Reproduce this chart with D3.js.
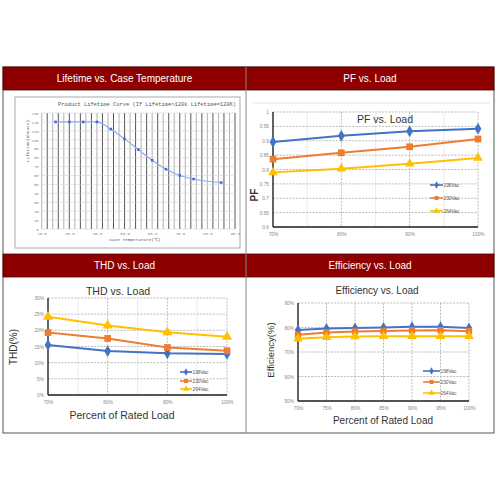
<!DOCTYPE html>
<html><head><meta charset="utf-8">
<script src="https://cdn.jsdelivr.net/npm/d3@7"></script>
<style>body{margin:0;background:#fff}svg{display:block}</style>
</head><body>
<svg id="c" width="500" height="500"></svg>
<script>
// ---------- DATA ----------
const headers = ["Lifetime vs. Case Temperature","PF vs. Load","THD vs. Load","Efficiency vs. Load"];
const seriesNames = ["198Vac","230Vac","264Vac"];

const lifeTemps = [25,30,35,40,45,50,55,60,65,70,75,85];
const lifeHours = [120,120,120,120,112,101,89,77,67,60,56,52];
const lifeXTicks = [20,30,40,50,60,70,80,90];
const lifeYTicks = [0,10,20,30,40,50,60,70,80,90,100,110,120,130];

const pfLoads = ["70%","80%","90%","100%"];
const pf198 = [0.896,0.917,0.933,0.942];
const pf230 = [0.836,0.858,0.879,0.906];
const pf264 = [0.790,0.803,0.820,0.840];
const pfTicks = [0.6,0.65,0.7,0.75,0.8,0.85,0.9,0.95,1];

const thdLoads = ["70%","80%","80%","100%"];
const thd198 = [15.5,13.6,12.9,12.7];
const thd230 = [19.3,17.5,14.7,13.7];
const thd264 = [24.2,21.5,19.4,18.0];
const thdTicks = [0,5,10,15,20,25,30];

const effLoads = ["70%","75%","80%","85%","90%","95%","100%"];
const eff198 = [79.0,79.6,79.8,80.0,80.3,80.3,79.8];
const eff230 = [77.0,78.0,78.4,78.6,78.8,78.9,78.5];
const eff264 = [75.4,76.0,76.3,76.4,76.4,76.4,76.4];
const effTicks = [50,60,70,80,90];

// ---------- STYLE ----------
const colors = ["#4472C4","#ED7D31","#FFC000"];
const symbols = [d3.symbolDiamond, d3.symbolSquare, d3.symbolTriangle];
const svg = d3.select("#c");
const FONT = "'Liberation Sans', Arial, sans-serif";

// table frame
const T = {l:3, r:494, t:67, b:433, mid:246, h1:[67,90], h2:[254,277]};
svg.append("rect").attr("x",T.l).attr("y",T.t).attr("width",T.r-T.l).attr("height",T.b-T.t)
  .attr("fill","#fff").attr("stroke","#555").attr("stroke-width",1);
[T.h1,T.h2].forEach((h,i)=>{
  svg.append("rect").attr("x",T.l).attr("y",h[0]).attr("width",T.r-T.l).attr("height",h[1]-h[0])
    .attr("fill","#8E0000").attr("stroke","#4a0000").attr("stroke-width",0.8);
  [[T.l,T.mid],[T.mid,T.r]].forEach((c,j)=>{
    svg.append("text").attr("x",(c[0]+c[1])/2).attr("y",(h[0]+h[1])/2+3.5)
      .attr("text-anchor","middle").attr("fill","#fff").attr("font-family",FONT).attr("font-size",10)
      .text(headers[i*2+j]);
  });
});
svg.append("line").attr("x1",T.mid).attr("x2",T.mid).attr("y1",T.t).attr("y2",T.b)
  .attr("stroke","#888").attr("stroke-width",1);
// faint line in PF cell
svg.append("line").attr("x1",252).attr("x2",490).attr("y1",103).attr("y2",103).attr("stroke","#e6e6e6");

// ---------- LIFETIME ----------
(function(){
  const g = svg.append("g");
  g.append("rect").attr("x",15).attr("y",97).attr("width",225).attr("height",151)
    .attr("fill","#fff").attr("stroke","#aaa").attr("stroke-width",1);
  const x = d3.scaleLinear().domain([20,90]).range([41.7,235]);
  const y = d3.scaleLinear().domain([0,130]).range([229,113]);
  const vg = d3.range(20,91,2);
  g.selectAll(".vg").data(vg).enter().append("line")
    .attr("x1",d=>x(d)).attr("x2",d=>x(d)).attr("y1",y(130)).attr("y2",y(0))
    .attr("stroke",(d,i)=> i%2 ? "#444" : "#aaa").attr("stroke-width",0.9);
  g.selectAll(".hg").data(lifeYTicks).enter().append("line")
    .attr("x1",x(20)).attr("x2",x(90)).attr("y1",d=>y(d)).attr("y2",d=>y(d))
    .attr("stroke","#ccc").attr("stroke-width",0.5);
  const ya = g.append("g").attr("transform",`translate(${x(20)},0)`)
    .call(d3.axisLeft(y).tickValues(lifeYTicks).tickSize(0).tickPadding(3));
  ya.select(".domain").remove();
  ya.selectAll("text").attr("font-size",4).attr("fill","#888").attr("font-family","'Liberation Mono',monospace");
  const xa = g.append("g").attr("transform",`translate(0,${y(0)})`)
    .call(d3.axisBottom(x).tickValues(lifeXTicks).tickFormat(d3.format(".1f")).tickSize(0).tickPadding(3));
  xa.select(".domain").remove();
  xa.selectAll("text").attr("font-size",4).attr("fill","#888").attr("font-family","'Liberation Mono',monospace");
  const pts = lifeTemps.map((t,i)=>[t,lifeHours[i]]);
  g.append("path").attr("d",d3.line().x(d=>x(d[0])).y(d=>y(d[1])).curve(d3.curveMonotoneX)(pts))
    .attr("fill","none").attr("stroke","#8fa9f0").attr("stroke-width",1.2);
  g.selectAll(".lp").data(pts).enter().append("rect")
    .attr("x",d=>x(d[0])-1.3).attr("y",d=>y(d[1])-1.3).attr("width",2.6).attr("height",2.6).attr("fill","#3d6ee6");
  g.append("text").attr("x",147).attr("y",106).attr("text-anchor","middle")
    .attr("font-family","'Liberation Mono','DejaVu Sans Mono',monospace").attr("font-size",5.4).attr("fill","#555")
    .text("Product Lifetime Curve (If Lifetime>120k Lifetime=120K)");
  g.append("text").attr("transform","translate(29,141) rotate(-90)").attr("text-anchor","middle")
    .attr("font-family","'Liberation Mono',monospace").attr("font-size",4.4).attr("fill","#555").text("Lifetime(Khours)");
  g.append("text").attr("x",135).attr("y",241).attr("text-anchor","middle")
    .attr("font-family","'Liberation Mono',monospace").attr("font-size",4.4).attr("fill","#555").text("Case Temperature(℃)");
})();

// ---------- generic line chart ----------
function lineChart(o){
  const g = svg.append("g");
  const n = o.labels.length;
  const x = d3.scaleLinear().domain([0,n-1]).range([o.x0,o.x1]);
  const y = d3.scaleLinear().domain(o.ydom).range([o.y0,o.y1]);
  if(o.minor){
    g.selectAll(".mv").data(d3.range(n-1)).enter().append("line")
      .attr("x1",d=>x(d+0.5)).attr("x2",d=>x(d+0.5)).attr("y1",o.y1).attr("y2",o.y0)
      .attr("stroke","#e4e4e4").attr("stroke-width",0.7);
  }
  g.selectAll(".hg").data(o.yticks).enter().append("line")
    .attr("x1",o.x0).attr("x2",o.x1).attr("y1",d=>y(d)).attr("y2",d=>y(d))
    .attr("stroke","#aaa").attr("stroke-width",0.8).attr("stroke-dasharray","2,1.3");
  g.selectAll(".vg").data(d3.range(1,n)).enter().append("line")
    .attr("x1",d=>x(d)).attr("x2",d=>x(d)).attr("y1",o.y1).attr("y2",o.y0)
    .attr("stroke","#aaa").attr("stroke-width",0.8).attr("stroke-dasharray","2,1.3");
  const ya = g.append("g").attr("transform",`translate(${o.x0},0)`)
    .call(d3.axisLeft(y).tickValues(o.yticks).tickFormat(o.yfmt).tickSize(0).tickPadding(4));
  ya.select(".domain").remove();
  ya.selectAll("text").attr("font-size",o.tfs||4.8).attr("fill","#888").attr("font-family",FONT);
  const xa = g.append("g").attr("transform",`translate(0,${o.y0})`)
    .call(d3.axisBottom(x).tickValues(d3.range(n)).tickFormat(i=>o.labels[i]).tickSize(0).tickPadding(o.xpad||6));
  xa.select(".domain").remove();
  xa.selectAll("text").attr("font-size",o.tfs||4.8).attr("fill","#888").attr("font-family",FONT);
  g.append("line").attr("x1",o.x0).attr("x2",o.x0).attr("y1",o.y1).attr("y2",o.y0).attr("stroke","#222").attr("stroke-width",1.4);
  g.append("line").attr("x1",o.x0).attr("x2",o.x1).attr("y1",o.y0).attr("y2",o.y0).attr("stroke","#222").attr("stroke-width",1.4);
  o.series.forEach((s,k)=>{
    g.append("path").attr("d",d3.line().x((d,i)=>x(i)).y(d=>y(d))(s))
      .attr("fill","none").attr("stroke",colors[k]).attr("stroke-width",o.lw||2);
    g.selectAll(".m"+k).data(s).enter().append("path")
      .attr("transform",(d,i)=>`translate(${x(i)},${y(d)})`)
      .attr("d",d3.symbol().type(symbols[k]).size(o.msz[k])).attr("fill",colors[k]);
  });
  seriesNames.forEach((nm,k)=>{
    const ly = o.leg.y[k];
    g.append("line").attr("x1",o.leg.x0).attr("x2",o.leg.x1).attr("y1",ly).attr("y2",ly)
      .attr("stroke",colors[k]).attr("stroke-width",1.6);
    g.append("path").attr("transform",`translate(${(o.leg.x0+o.leg.x1)/2},${ly})`)
      .attr("d",d3.symbol().type(symbols[k]).size(o.leg.ms)).attr("fill",colors[k]);
    g.append("text").attr("x",o.leg.x1+0.5).attr("y",ly+1.7).attr("font-size",4.8).attr("fill","#555")
      .attr("font-family",FONT).text(nm);
  });
  if(o.title) g.append("text").attr("x",o.title[0]).attr("y",o.title[1]).attr("text-anchor","middle")
    .attr("font-size",o.title[2]).attr("fill","#333").attr("font-family",FONT).text(o.title[3]);
  if(o.ylab) g.append("text").attr("transform",`translate(${o.ylab[0]},${o.ylab[1]}) rotate(-90)`).attr("text-anchor","middle")
    .attr("font-size",o.ylab[2]).attr("font-weight",o.ylab[4]||"normal").attr("fill","#333").attr("font-family",FONT).text(o.ylab[3]);
  if(o.xlab) g.append("text").attr("x",o.xlab[0]).attr("y",o.xlab[1]).attr("text-anchor","middle")
    .attr("font-size",o.xlab[2]).attr("fill","#333").attr("font-family",FONT).text(o.xlab[3]);
}

// PF
lineChart({labels:pfLoads, x0:273, x1:478, y0:227, y1:112, ydom:[0.6,1], yticks:pfTicks,
  yfmt:d=>String(+d.toFixed(2)), series:[pf198,pf230,pf264], msz:[40,45,40], minor:true, lw:2,
  leg:{x0:430,x1:443,y:[185,198,211],ms:16},
  title:[385,123,10.5,"PF vs. Load"], ylab:[258,195,10,"PF","bold"]});

// THD
lineChart({labels:thdLoads, x0:48, x1:227, y0:395, y1:298, ydom:[0,30], yticks:thdTicks,
  yfmt:d=>d+"%", series:[thd198,thd230,thd264], msz:[40,45,45], minor:true, lw:2,
  leg:{x0:180,x1:192,y:[372,381,389],ms:16},
  title:[118,295,10.5,"THD vs. Load"], ylab:[17,347,10,"THD(%)","normal"],
  xlab:[122,419,10.5,"Percent of Rated Load"]});

// Efficiency
lineChart({labels:effLoads, x0:298, x1:469, y0:401, y1:303, ydom:[50,90], yticks:effTicks,
  yfmt:d=>d+"%", series:[eff198,eff230,eff264], msz:[35,40,40], minor:false, lw:2,
  leg:{x0:423,x1:440,y:[371,382,393],ms:16},
  title:[377,294,10,"Efficiency vs. Load"], ylab:[274,350,9.5,"Efficiency(%)","normal"],
  xlab:[383,424,10,"Percent of  Rated Load"]});
</script>
</body></html>
